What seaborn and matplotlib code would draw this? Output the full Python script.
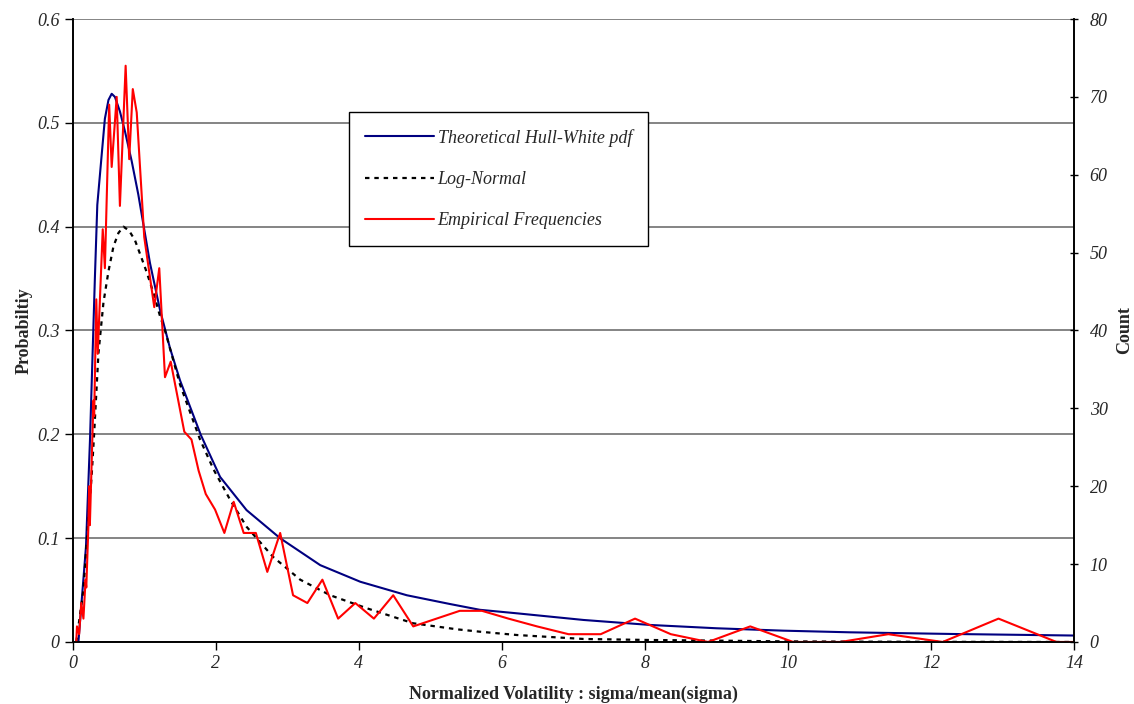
import numpy as np
import pandas as pd
import matplotlib
matplotlib.use("Agg")
import matplotlib.pyplot as plt
import seaborn as sns

# Theoretical Hull-White pdf
hw_x = [0.08, 0.186, 0.242, 0.288, 0.31, 0.344, 0.405, 0.45, 0.50, 0.545, 0.59,
        0.66, 0.73, 0.825, 0.917, 1.08, 1.22, 1.36, 1.5, 1.79, 2.06, 2.43, 2.90,
        3.46, 4.02, 4.67, 5.27, 5.69, 6.21, 7.14, 8.07, 9.0, 9.93, 10.87, 12.3, 14.0]
hw_p = [0.0, 0.092, 0.195, 0.30, 0.35, 0.421, 0.469, 0.504, 0.522, 0.528, 0.525,
        0.511, 0.492, 0.463, 0.431, 0.365, 0.32, 0.283, 0.252, 0.1995, 0.159, 0.127, 0.0999,
        0.074, 0.058, 0.045, 0.0366, 0.031, 0.0276, 0.0212, 0.0164, 0.0132, 0.0109, 0.0093, 0.0077, 0.0062]

# Log-normal fit
ln_x = [0.05, 0.15, 0.22, 0.265, 0.30, 0.36, 0.43, 0.50, 0.57, 0.64, 0.71, 0.79,
        0.87, 0.94, 1.03, 1.13, 1.22, 1.29, 1.5, 1.78, 1.97, 2.2, 2.43, 2.80, 3.18,
        3.6, 4.11, 4.76, 5.37, 5.69, 6.21, 7.14, 8.07, 9.0, 9.93, 11.0, 12.5, 14.0]
ln_p = [0.0, 0.05, 0.12, 0.16, 0.201, 0.278, 0.327, 0.357, 0.381, 0.394, 0.40, 0.396,
        0.387, 0.374, 0.357, 0.336, 0.314, 0.30, 0.248, 0.195, 0.166, 0.137, 0.111, 0.082, 0.060,
        0.045, 0.0325, 0.018, 0.0122, 0.0099, 0.0067, 0.0029, 0.0019, 0.0013, 0.0006, 0.0003, 0.0001, 0.0]

# Empirical frequencies (counts, right axis)
emp_x = [0.05, 0.06, 0.09, 0.12, 0.15, 0.18, 0.19, 0.22, 0.23, 0.24, 0.29, 0.30,
         0.33, 0.35, 0.42, 0.45, 0.51, 0.545, 0.615, 0.66, 0.74, 0.79, 0.84, 0.895,
         1.0, 1.14, 1.21, 1.29, 1.37, 1.56, 1.66, 1.76, 1.86, 1.99, 2.12, 2.25, 2.39,
         2.56, 2.72, 2.90, 3.08, 3.28, 3.49, 3.71, 3.95, 4.21, 4.48, 4.76, 5.41, 5.72,
         6.09, 6.49, 6.93, 7.38, 7.86, 8.36, 8.88, 9.47, 10.07, 10.73, 11.40, 12.16,
         12.94, 13.75, 14.0]
emp_n = [0, 2, 1, 5, 3, 8, 7, 15, 20, 15, 31, 29,
         44, 37, 53, 48, 69, 61, 70, 56, 74, 62, 71, 68,
         52, 43, 48, 34, 36, 27, 26, 22, 19, 17, 14, 18, 14,
         14, 9, 14, 6, 5, 8, 3, 5, 3, 6, 2, 4, 4,
         3, 2, 1, 1, 3, 1, 0, 2, 0, 0, 1, 0,
         3, 0, 0]

sns.set_style("white")
plt.rcParams['font.family'] = ['Liberation Serif', 'DejaVu Serif']

fig = plt.figure(figsize=(11.34, 7.04), dpi=100)
ax = fig.add_axes([0.0641, 0.0881, 0.8833, 0.8849])
ax2 = ax.twinx()

sns.lineplot(x=hw_x, y=hw_p, ax=ax, color='#000080', lw=1.5,
             sort=False, estimator=None, label='Theoretical Hull-White pdf', legend=False)
sns.lineplot(x=ln_x, y=ln_p, ax=ax, color='black', lw=1.6, linestyle=(0, (2, 2.2)),
             sort=False, estimator=None, label='Log-Normal', legend=False)
sns.lineplot(x=emp_x, y=emp_n, ax=ax2, color='#ff0000', lw=1.5,
             sort=False, estimator=None, label='Empirical Frequencies', legend=False)

ax.set_xlim(0, 14)
ax.set_ylim(0, 0.6)
ax2.set_ylim(0, 80)
ax.set_xticks(range(0, 15, 2))
ax.set_yticks([0, 0.1, 0.2, 0.3, 0.4, 0.5, 0.6])
ax.set_yticklabels(['0', '0.1', '0.2', '0.3', '0.4', '0.5', '0.6'])
ax2.set_yticks(range(0, 81, 10))

for a in (ax, ax2):
    for s in a.spines.values():
        s.set_color('black')
        s.set_linewidth(1.2)
    a.spines['top'].set_visible(False)

ax.yaxis.grid(True, color='#707070', lw=1.2)
ax.xaxis.grid(False)
ax.set_axisbelow(True)

ax.tick_params(axis='both', which='major', length=6, width=1, color='black',
               direction='out', labelsize=13, bottom=True, left=True)
ax2.tick_params(axis='y', length=6, width=1, color='black', direction='inout',
                labelsize=13, right=True, pad=8)
for lab in ax.get_xticklabels() + ax.get_yticklabels() + ax2.get_yticklabels():
    lab.set_fontstyle('italic')

ax.set_xlabel('Normalized Volatility : sigma/mean(sigma)', fontsize=13,
              fontweight='bold', labelpad=10)
ax.set_ylabel('Probabiltiy', fontsize=13, fontweight='bold', labelpad=3)
ax2.set_ylabel('Count', fontsize=13, fontweight='bold', labelpad=6)

h1, l1 = ax.get_legend_handles_labels()
h2, l2 = ax2.get_legend_handles_labels()
leg = ax2.legend(h1 + h2, l1 + l2, loc='upper left', bbox_to_anchor=(0.276, 0.85),
                 frameon=True, fancybox=False, edgecolor='black', framealpha=1,
                 prop={'family': 'Liberation Serif', 'style': 'italic', 'size': 13},
                 handlelength=3.8, labelspacing=1.35, borderpad=0.9,
                 handletextpad=0.2, borderaxespad=0)
leg.get_frame().set_linewidth(1.0)

fig.savefig('out.png', dpi=100)
